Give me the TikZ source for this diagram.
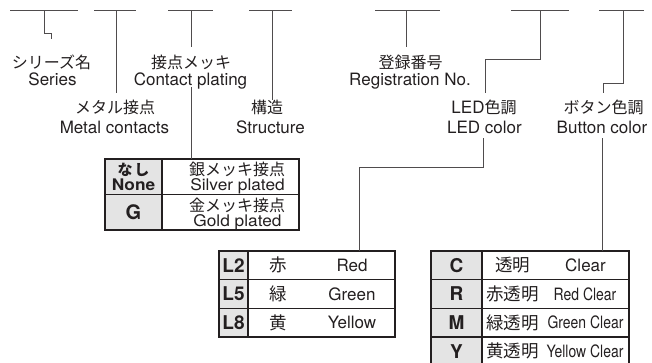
\documentclass[tikz,border=0pt]{standalone}
\usepackage{fontspec}
\setmainfont{TeX Gyre Heros}
\newfontfamily\jpfont{Noto Sans CJK JP}
\usetikzlibrary{positioning}

\definecolor{ink}{HTML}{231F20}
\definecolor{keygray}{HTML}{E4E4E4}
\newcommand{\narrowtext}[1]{\scalebox{0.82}[1]{#1}}
\newcommand{\widetext}[1]{\scalebox{1.08}[1]{#1}}

\tikzset{
  en/.style={inner sep=0pt, anchor=base, text=ink, font=\fontsize{17}{17}\selectfont},
  ja/.style={inner sep=0pt, anchor=base, text=ink, font=\fontsize{16}{16}\selectfont\jpfont},
  jabig/.style={ja, font=\fontsize{17.5}{17.5}\selectfont\jpfont},
  ensmall/.style={en, font=\fontsize{16}{16}\selectfont},
  lead/.style={draw=ink!80, line width=0.9pt},
  cell/.style={draw=ink, line width=1.2pt, inner sep=0pt, outer sep=0pt, text=ink},
  keycell/.style={cell, fill=keygray, font=\fontsize{19}{19}\selectfont\bfseries},
  valcell/.style={cell, fill=white},
}

\begin{document}
\begin{tikzpicture}[x=1pt, y=-1pt]
  \useasboundingbox (0,0) rectangle (652,362);

  % One short bar under each field of the part number, with the drop point
  % taken from its middle.
  \foreach \l/\m/\r [count=\i] in {10/44/78, 94/116/136, 168/191/213, 249/272/292,
                                   375/406/440, 511/540/569, 599/623/644} {
    \draw[lead] (\l,10.5) -- (\r,10.5);
    \coordinate (t\i) at (\m,10.5);
  }

  % Field names: Japanese on top, English below.
  \node[ja] (seriesjp) at (51.5,68) {シリーズ名};
  \node[en] (series) at (52.5,85.5) {Series};
  \node[ja] (platingjp) at (191,68) {接点メッキ};
  \node[en] (plating) at (190.5,85.5) {Contact plating};
  \node[ja] (regjp) at (410.5,68) {登録番号};
  \node[en] (reg) at (410,85.5) {Registration No.};
  \node[ja] (metaljp) at (115,113.5) {メタル接点};
  \node[en] (metal) at (114.5,133.5) {Metal contacts};
  \node[ja] (structjp) at (267,113.5) {構造};
  \node[en] (struct) at (270.5,133.5) {Structure};
  \node[en] (ledjp) at (484,113.5) {LED{\fontsize{16}{16}\selectfont\jpfont 色調}};
  \node[en] (led) at (484.5,133.5) {LED color};
  \node[ja] (buttonjp) at (603.5,113.5) {ボタン色調};
  \node[en] (button) at (602,133.5) {Button color};

  % Where each drop line stops.
  \coordinate (e1) at (51,39);
  \coordinate (e2) at (116,93);
  \coordinate (e3) at (191,47);
  \coordinate (e4) at (272,100);
  \coordinate (e5) at (406,47);
  \coordinate (e6) at (485,93);
  \coordinate (e7) at (603,93);
  \draw[lead] (t1) -- ++(0,22.5) -| (e1);
  \draw[lead] (t2) -- (e2);
  \draw[lead] (t3) -- (e3);
  \draw[lead] (t4) -- (e4);
  \draw[lead] (t5) -- (e5);
  \draw[lead] (t6) -- ++(0,48.5) -| (e6);
  \draw[lead] (t7) -- ++(0,72.5) -| (e7);

  % Contact plating choices.
  \node[keycell, minimum width=57pt, minimum height=35.5pt] (pk1) at (133.5,176.75) {};
  \node[valcell, minimum width=137pt, minimum height=35.5pt, right=0pt of pk1] (pv1) {};
  \node[keycell, minimum width=57pt, minimum height=35.5pt, below=0pt of pk1] (pk2) {};
  \node[valcell, minimum width=137pt, minimum height=35.5pt, right=0pt of pk2] (pv2) {};
  \node[ja, font=\fontsize{15}{15}\selectfont\jpfont\bfseries] (nashi) at (133.5,175) {な\hspace{2pt}し};
  \node[en, font=\fontsize{16}{16}\selectfont\bfseries] (none) at (133.5,190) {\widetext{None}};
  \node[inner sep=0pt, text=ink, font=\fontsize{20}{20}\selectfont\bfseries] (gold) at (pk2) {G};
  \node[ja] (silverjp) at (237,175.5) {銀メッキ接点};
  \node[ensmall] (silver) at (237.5,190) {\widetext{Silver plated}};
  \node[ja] (goldjp) at (237,211.5) {金メッキ接点};
  \node[ensmall] (goldtxt) at (237.5,226.3) {\widetext{Gold plated}};

  % LED colour choices.
  \node[keycell, minimum width=29pt, minimum height=28.67pt] (lk1) at (233.5,265.33) {L2};
  \node[valcell, minimum width=147pt, minimum height=28.67pt, right=0pt of lk1] (lv1) {};
  \node[keycell, minimum width=29pt, minimum height=28.67pt, below=0pt of lk1] (lk2) {L5};
  \node[valcell, minimum width=147pt, minimum height=28.67pt, right=0pt of lk2] (lv2) {};
  \node[keycell, minimum width=29pt, minimum height=28.67pt, below=0pt of lk2] (lk3) {L8};
  \node[valcell, minimum width=147pt, minimum height=28.67pt, right=0pt of lk3] (lv3) {};
  \node[jabig] (redjp) at (278,271.8) {赤};
  \node[en] (red) at (352,271.3) {Red};
  \node[jabig] (greenjp) at (278,300.5) {緑};
  \node[en] (green) at (352,300) {Green};
  \node[jabig] (yellowjp) at (278,329.2) {黄};
  \node[en] (yellow) at (352,328.7) {Yellow};

  % Button colour choices; the last row runs off the bottom edge.
  \begin{scope}
    \clip (0,0) rectangle (652,362);
    \node[keycell, minimum width=51pt, minimum height=28.67pt] (bk1) at (456.5,265.33) {C};
    \node[valcell, minimum width=147pt, minimum height=28.67pt, right=0pt of bk1] (bv1) {};
    \node[keycell, minimum width=51pt, minimum height=28.67pt, below=0pt of bk1] (bk2) {R};
    \node[valcell, minimum width=147pt, minimum height=28.67pt, right=0pt of bk2] (bv2) {};
    \node[keycell, minimum width=51pt, minimum height=28.67pt, below=0pt of bk2] (bk3) {M};
    \node[valcell, minimum width=147pt, minimum height=28.67pt, right=0pt of bk3] (bv3) {};
    \node[keycell, minimum width=51pt, minimum height=28.67pt, below=0pt of bk3] (bk4) {Y};
    \node[valcell, minimum width=147pt, minimum height=28.67pt, right=0pt of bk4] (bv4) {};
  \end{scope}
  \node[jabig] (clearjp) at (512.5,271.8) {透明};
  \node[en] (clear) at (585.5,271.3) {Clear};
  \node[jabig] (redclearjp) at (512.5,300.5) {赤透明};
  \node[en] (redclear) at (585,300) {\narrowtext{Red Clear}};
  \node[jabig] (greenclearjp) at (512.5,329.2) {緑透明};
  \node[en] (greenclear) at (585.5,328.7) {\narrowtext{Green Clear}};
  \node[jabig] (yellowclearjp) at (512.5,357.2) {黄透明};
  \node[en] (yellowclear) at (585,357.3) {\narrowtext{Yellow Clear}};

  % Second drops, from the English names down to their tables.
  \coordinate (f3) at (191,87);
  \coordinate (f6) at (483,138);
  \coordinate (f7) at (602,138);
  \draw[lead] (f3) -- (f3 |- pv1.north);
  \draw[lead] (f6) -- ++(0,29) -| ([xshift=37.5pt]lv1.north);
  \draw[lead] (f7) -- (f7 |- bv1.north);
\end{tikzpicture}
\end{document}
